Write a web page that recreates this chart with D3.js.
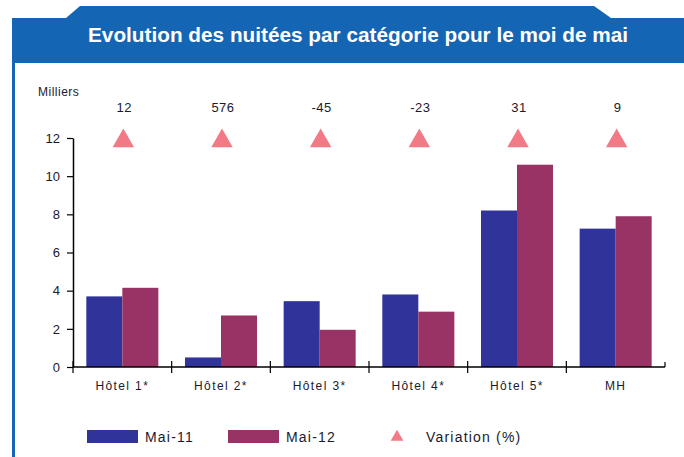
<!DOCTYPE html>
<html>
<head>
<meta charset="utf-8">
<script src="https://cdn.jsdelivr.net/npm/d3@7"></script>
<style>
  body { margin: 0; background: #fff; }
  svg { display: block; font-family: "Liberation Sans", Arial, sans-serif; }
</style>
</head>
<body>
<svg id="chart" width="684" height="457"></svg>
<script>
const categories = ['Hôtel 1*', 'Hôtel 2*', 'Hôtel 3*', 'Hôtel 4*', 'Hôtel 5*', 'MH']
const mai11 = [3.7, 0.5, 3.45, 3.8, 8.2, 7.25]
const mai12 = [4.15, 2.7, 1.95, 2.9, 10.6, 7.9]
const variation = [12, 576, -45, -23, 31, 9]
const yTicks = [0, 2, 4, 6, 8, 10, 12]
const seriesNames = ['Mai-11', 'Mai-12']

const COLORS = ['#303399', '#993366']
const TRI = '#f27a86'
const BLUE = '#1565b5'
const TXT = '#1a1a2e'

const svg = d3.select('#chart')

// title banner with tab
svg.append('path')
  .attr('d', 'M12,63 L12,18 L66,18 L80,6 L594,6 L611,18 L684,18 L684,63 Z')
  .attr('fill', BLUE)
svg.append('line')
  .attr('x1', 13.5).attr('x2', 13.5).attr('y1', 62).attr('y2', 457)
  .attr('stroke', BLUE).attr('stroke-width', 3)

svg.append('text')
  .attr('x', 358).attr('y', 42)
  .attr('text-anchor', 'middle')
  .attr('fill', '#fff').attr('font-weight', 'bold').attr('font-size', 19.5)
  .attr('textLength', 540).attr('lengthAdjust', 'spacingAndGlyphs')
  .text('Evolution des nuitées par catégorie pour le moi de mai')

const x0 = 73, x1 = 665, yTop = 138, yBottom = 367

const x = d3.scaleBand().domain(categories).range([x0, x1]).paddingInner(0).paddingOuter(0)
const xi = d3.scaleBand().domain([0, 1]).range([0, x.bandwidth()]).paddingOuter(0.37).paddingInner(0)
const y = d3.scaleLinear().domain([0, 12]).range([yBottom, yTop])

// bars
const series = [mai11, mai12]
series.forEach((vals, s) => {
  svg.append('g').selectAll('rect')
    .data(vals)
    .join('rect')
    .attr('x', (d, i) => x(categories[i]) + xi(s))
    .attr('width', xi.bandwidth())
    .attr('y', d => y(d))
    .attr('height', d => y(0) - y(d))
    .attr('fill', COLORS[s])
})

// y axis
const yAxis = svg.append('g')
  .attr('transform', `translate(${x0},0)`)
  .call(d3.axisLeft(y).tickValues(yTicks).tickSize(6).tickPadding(7).tickSizeOuter(0))
yAxis.select('.domain').attr('stroke', '#000').attr('stroke-width', 1.5)
yAxis.selectAll('.tick line').attr('stroke', '#000').attr('stroke-width', 1.2)
yAxis.selectAll('.tick text').attr('font-size', 13).attr('fill', TXT)

// x axis
svg.append('line')
  .attr('x1', x0).attr('x2', x1).attr('y1', yBottom).attr('y2', yBottom)
  .attr('stroke', '#000').attr('stroke-width', 1.5)
const bounds = categories.map(c => x(c)).concat([x1])
svg.append('g').selectAll('line')
  .data(bounds)
  .join('line')
  .attr('x1', d => d).attr('x2', d => d)
  .attr('y1', (d, i) => i === bounds.length - 1 ? yBottom - 5 : yBottom - 6)
  .attr('y2', (d, i) => i === bounds.length - 1 ? yBottom : yBottom + 6)
  .attr('stroke', '#000').attr('stroke-width', 1.2)

svg.append('g').selectAll('text')
  .data(categories)
  .join('text')
  .attr('x', d => x(d) + x.bandwidth() / 2)
  .attr('y', 390)
  .attr('text-anchor', 'middle')
  .attr('font-size', 12).attr('letter-spacing', 1.4).attr('fill', TXT)
  .text(d => d)

svg.append('text')
  .attr('x', 38).attr('y', 96)
  .attr('font-size', 12).attr('letter-spacing', 0.5).attr('fill', TXT)
  .text('Milliers')

// variation markers
const tri = d3.symbol().type(d3.symbolTriangle).size(200)
svg.append('g').selectAll('path')
  .data(variation)
  .join('path')
  .attr('d', tri)
  .attr('transform', (d, i) => `translate(${x(categories[i]) + x.bandwidth() / 2 + 1},${yTop + 3})`)
  .attr('fill', TRI)

svg.append('g').selectAll('text')
  .data(variation)
  .join('text')
  .attr('x', (d, i) => x(categories[i]) + x.bandwidth() / 2 + 2)
  .attr('y', 112)
  .attr('text-anchor', 'middle')
  .attr('font-size', 13).attr('letter-spacing', 0.5).attr('fill', TXT)
  .text(d => d)

// legend
const legend = svg.append('g').attr('transform', 'translate(0,436)')
seriesNames.forEach((name, s) => {
  const lx = 87 + s * 141
  legend.append('rect').attr('x', lx).attr('y', -6).attr('width', 51).attr('height', 13).attr('fill', COLORS[s])
  legend.append('text').attr('x', lx + 58).attr('y', 6).attr('font-size', 14).attr('letter-spacing', 1.2).attr('fill', TXT).text(name)
})
legend.append('path').attr('d', d3.symbol().type(d3.symbolTriangle).size(70)).attr('transform', 'translate(397,1)').attr('fill', TRI)
legend.append('text').attr('x', 426).attr('y', 6).attr('font-size', 14).attr('letter-spacing', 1.2).attr('fill', TXT).text('Variation (%)')
</script>
</body>
</html>
